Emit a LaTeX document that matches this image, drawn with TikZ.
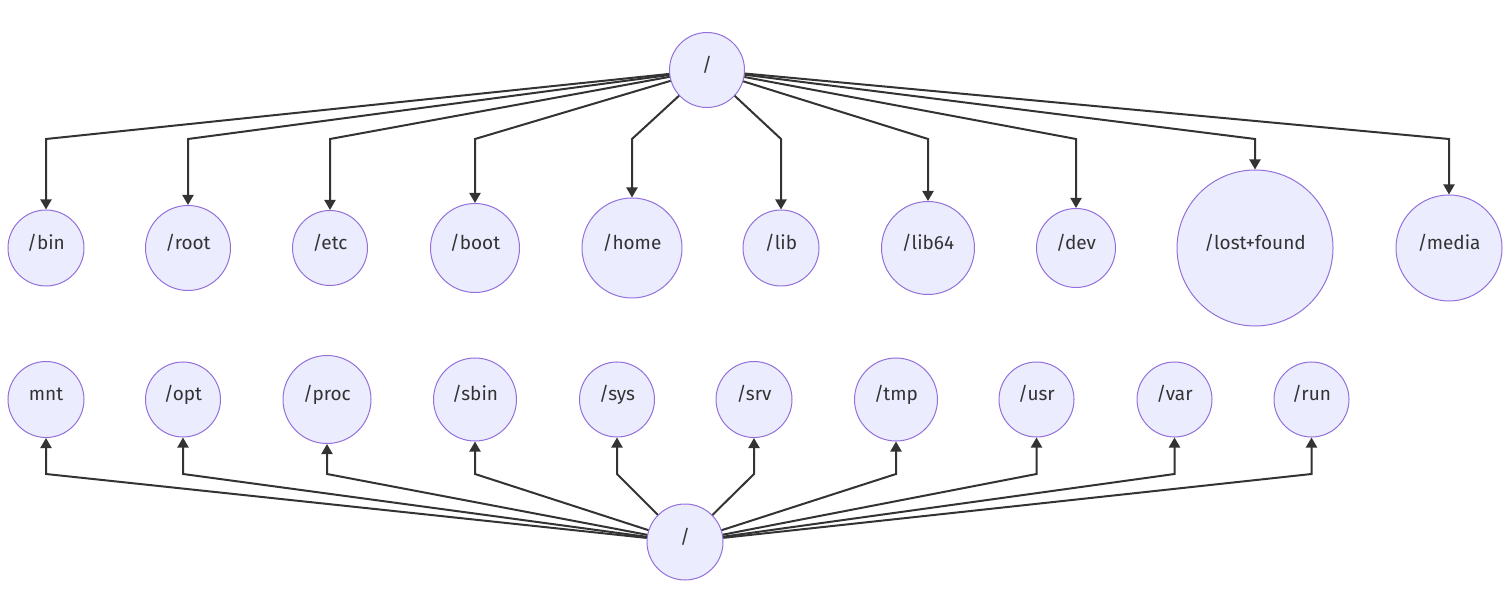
\documentclass[tikz,border=0pt]{standalone}
\usepackage{fontspec}
\setmainfont{Fira Sans}
\usetikzlibrary{arrows.meta}
\definecolor{dirfill}{HTML}{ECECFF}
\definecolor{dirline}{HTML}{9370DB}
\definecolor{edgeline}{HTML}{333333}
\begin{document}
\begin{tikzpicture}[x=1pt, y=-1pt,
	dirnode/.style={circle, draw=dirline, fill=dirfill, line width=1pt, inner sep=0pt,
		minimum size=#1, text=edgeline, font=\fontsize{19}{23}\selectfont,
		text height=13pt, text depth=10pt},
	link/.style={draw=edgeline, line width=2pt, -{Triangle[length=10pt, width=11pt]}}]
	\useasboundingbox (0,0) rectangle (1510,593);
	\coordinate (topbend) at (0,139);
	\coordinate (botbend) at (0,474);
	% upper tree
	\node[dirnode=75pt] (top) at (707,70) {/};
	\node[dirnode=76pt] (bin) at (46,248) {/bin};
	\node[dirnode=85pt] (root) at (188,248) {/root};
	\node[dirnode=75pt] (etc) at (330,248) {/etc};
	\node[dirnode=89pt] (boot) at (475,248) {/boot};
	\node[dirnode=100pt] (home) at (632,248) {/home};
	\node[dirnode=76pt] (lib) at (781,248) {/lib};
	\node[dirnode=93pt] (libsf) at (928,248) {/lib64};
	\node[dirnode=79pt] (dev) at (1076,248) {/dev};
	\node[dirnode=156pt] (lost) at (1255,248) {/lost+found};
	\node[dirnode=106pt] (media) at (1449,248) {/media};
	% lower tree
	\node[dirnode=76pt] (bot) at (685,542) {/};
	\node[dirnode=76pt] (mnt) at (46,399.5) {mnt};
	\node[dirnode=75pt] (opt) at (183,399.5) {/opt};
	\node[dirnode=88pt] (proc) at (327,399.5) {/proc};
	\node[dirnode=83pt] (sbin) at (475,399.5) {/sbin};
	\node[dirnode=75pt] (sys) at (617,399.5) {/sys};
	\node[dirnode=76pt] (srv) at (754,399.5) {/srv};
	\node[dirnode=83pt] (tmp) at (896,399.5) {/tmp};
	\node[dirnode=75pt] (usr) at (1036.5,399.5) {/usr};
	\node[dirnode=75pt] (var) at (1174.5,399.5) {/var};
	\node[dirnode=75pt] (run) at (1311.5,399.5) {/run};
	\foreach \d in {bin,root,etc,boot,home,lib,libsf,dev,lost,media}
		\draw[link] (top) -- (\d |- topbend) -- (\d);
	\foreach \d in {mnt,opt,proc,sbin,sys,srv,tmp,usr,var,run}
		\draw[link] (bot) -- (\d |- botbend) -- (\d);
\end{tikzpicture}
\end{document}
